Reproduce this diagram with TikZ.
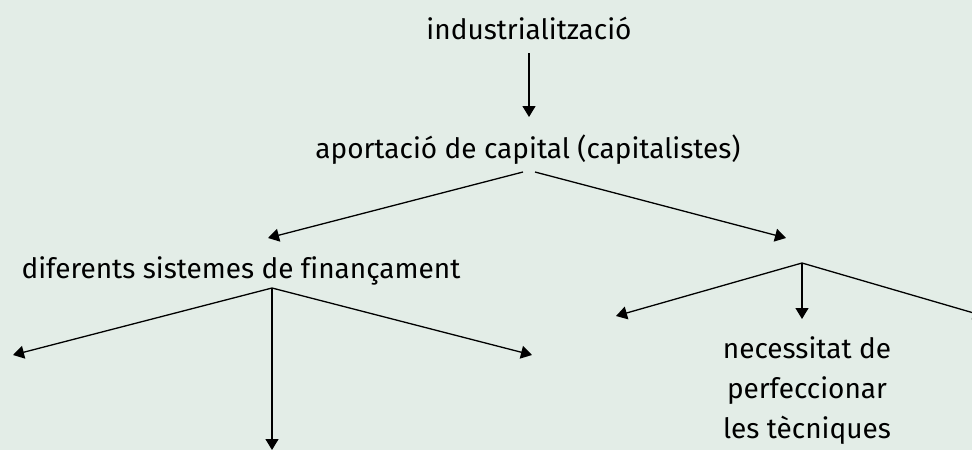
\documentclass[tikz,border=0pt]{standalone}
\usepackage{fontspec}
\setmainfont{Fira Sans}[Ligatures=NoCommon]
\usetikzlibrary{arrows.meta}
\definecolor{bg}{HTML}{E3EDE7}
\begin{document}
\begin{tikzpicture}[x=1pt,y=-1pt,
  lbl/.style={inner sep=0pt,font=\fontsize{28}{40}\selectfont,align=center,anchor=base},
  conn/.style={line width=1.3pt,-{Triangle[length=11pt,width=13pt]}}]
\fill[bg] (0,0) rectangle (972,450);
\useasboundingbox (0,0) rectangle (972,450);
\node[lbl] (ind) at (529,39) {industrialització};
\node[lbl] (apo) at (528,158) {aportació de capital (capitalistes)};
\node[lbl] (dif) at (241,278) {diferents sistemes de finançament};
\node[lbl] (nec) at (807,438) {necessitat de\\perfeccionar\\les tècniques};
\coordinate (as) at (529,53);
\coordinate (ap) at (529,117);
\coordinate (aL) at (523,172);
\coordinate (aR) at (535,172);
\coordinate (dR) at (786,238);
\coordinate (dL) at (268,238);
\coordinate (v1) at (272,288);
\coordinate (t1) at (13,355);
\coordinate (t2) at (272,450);
\coordinate (t3) at (532,355);
\coordinate (v2) at (802,263);
\coordinate (t4) at (616,316);
\coordinate (t5) at (802,319);
\coordinate (t6) at (984,316);
\draw[conn] (as) -- (ap);
\draw[conn] (aL) -- (dL);
\draw[conn] (aR) -- (dR);
\draw[conn] (v1) -- (t1);
\draw[conn] (v1) -- (t2);
\draw[conn] (v1) -- (t3);
\draw[conn] (v2) -- (t4);
\draw[conn] (v2) -- (t5);
\draw[conn] (v2) -- (t6);
\end{tikzpicture}
\end{document}
